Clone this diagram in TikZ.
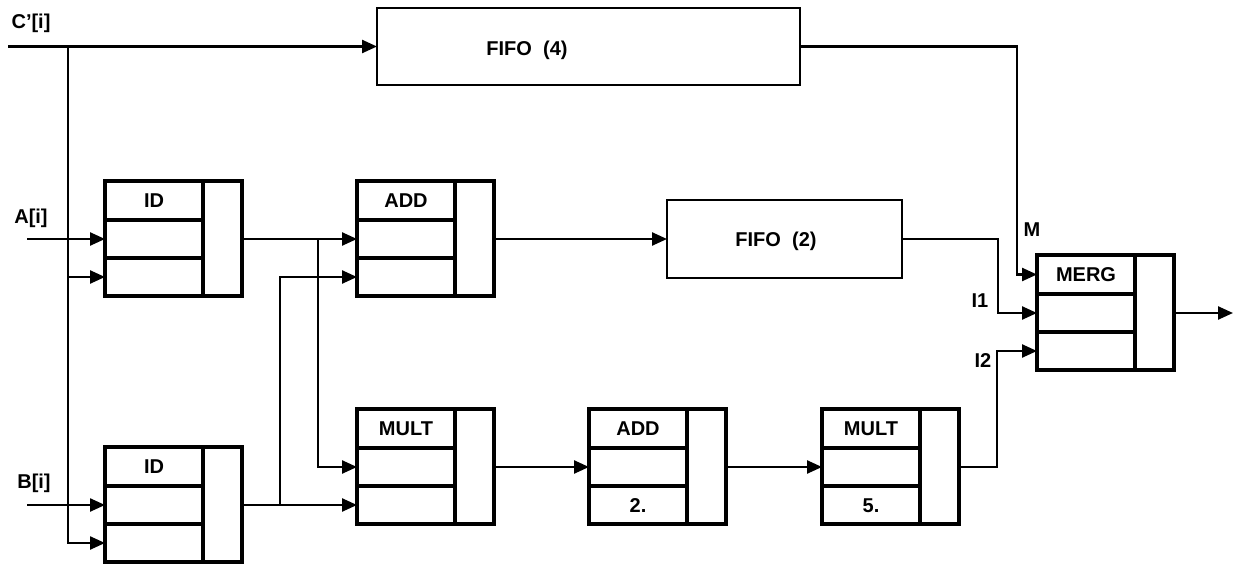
\documentclass[tikz,border=0pt]{standalone}
\usepackage{fontspec}
\setmainfont{Liberation Sans}
\usetikzlibrary{arrows.meta,calc}
\tikzset{
  fubox/.style={draw, line width=3.8pt, minimum width=137pt, minimum height=115pt, inner sep=0pt, outer sep=0pt},
  divline/.style={line width=3.2pt},
  fifobox/.style={draw, line width=2.6pt, inner sep=0pt, outer sep=0pt},
  lbl/.style={font=\fontsize{20}{24}\selectfont\bfseries, inner sep=0pt},
  wire/.style={line width=2.4pt},
  arr/.style={wire, -{Triangle[length=15pt,width=13pt]}},
}
\newcommand\fu[5]{%
  \node[fubox] (#1) at (#2+68.5,#3+57.5) {};
  \draw[divline] (#2+98,#3) -- (#2+98,#3+115);
  \draw[divline] (#2,#3+39) -- (#2+98,#3+39);
  \draw[divline] (#2,#3+77) -- (#2+98,#3+77);
  \node[lbl] (#1-t) at (#2+49,#3+20) {#4};
  \node[lbl] (#1-b) at (#2+49,#3+97) {#5};
  \coordinate (#1-i0) at (#2,#3+19.5);
  \coordinate (#1-i1) at (#2,#3+58);
  \coordinate (#1-i2) at (#2,#3+96);
  \coordinate (#1-o) at (#2+137,#3+58);
}
\begin{document}
\begin{tikzpicture}[x=1pt,y=-1pt]
\useasboundingbox (0,0) rectangle (1237,564);
% function units
\fu{idA}{105}{181}{ID}{}
\fu{idB}{105}{447}{ID}{}
\fu{addA}{357}{181}{ADD}{}
\fu{multA}{357}{409}{MULT}{}
\fu{addB}{589}{409}{ADD}{2.}
\fu{multB}{822}{409}{MULT}{5.}
\fu{merg}{1037}{255}{MERG}{}
% FIFOs
\node[fifobox, minimum width=423pt, minimum height=77pt] (fifo4) at (588.5,46.5) {};
\node[lbl] (fifo4t) at (527,50) {FIFO\ \ (4)};
\node[fifobox, minimum width=235pt, minimum height=78pt] (fifo2) at (784.5,239) {};
\node[lbl] (fifo2t) at (776,241) {FIFO\ \ (2)};
% input labels
\node[lbl] (cl) at (31,23) {C'[i]};
\node[lbl] (al) at (31,218) {A[i]};
\node[lbl] (bl) at (34,483) {B[i]};
\node[lbl] (ml) at (1032,230) {M};
\node[lbl] (i1l) at (980,301) {I1};
\node[lbl] (i2l) at (983,361) {I2};
% coordinates
\coordinate (cin) at (8,46.5);
\coordinate (cv) at (68,46.5);
\coordinate (ain) at (27,239);
\coordinate (bin) at (27,505);
\coordinate (j1) at (318,239);
\coordinate (j2) at (280,505);
\coordinate (k0) at (1017,274.5);
\coordinate (k1) at (998,313);
\coordinate (k2) at (997,351);
\coordinate (out) at (1233,313);
% connectors
\draw[arr] (cin) -- (fifo4.west);
\draw[arr] (cv) |- (idB-i2);
\draw[arr] (cv |- idA-i2) -- (idA-i2);
\draw[arr] (ain) -- (idA-i1);
\draw[arr] (bin) -- (idB-i1);
\draw[arr] (idA-o) -- (addA-i1);
\draw[arr] (j1) |- (multA-i1);
\draw[arr] (idB-o) -- (multA-i2);
\draw[arr] (j2) |- (addA-i2);
\draw[arr] (addA-o) -- (fifo2.west);
\draw[arr] (multA-o) -- (addB-i1);
\draw[arr] (addB-o) -- (multB-i1);
\draw[arr] (fifo4.east) -| (k0) -- (merg-i0);
\draw[arr] (fifo2.east) -| (k1) -- (merg-i1);
\draw[arr] (multB-o) -| (k2) -- (merg-i2);
\draw[arr] (merg-o) -- (out);
\end{tikzpicture}
\end{document}
